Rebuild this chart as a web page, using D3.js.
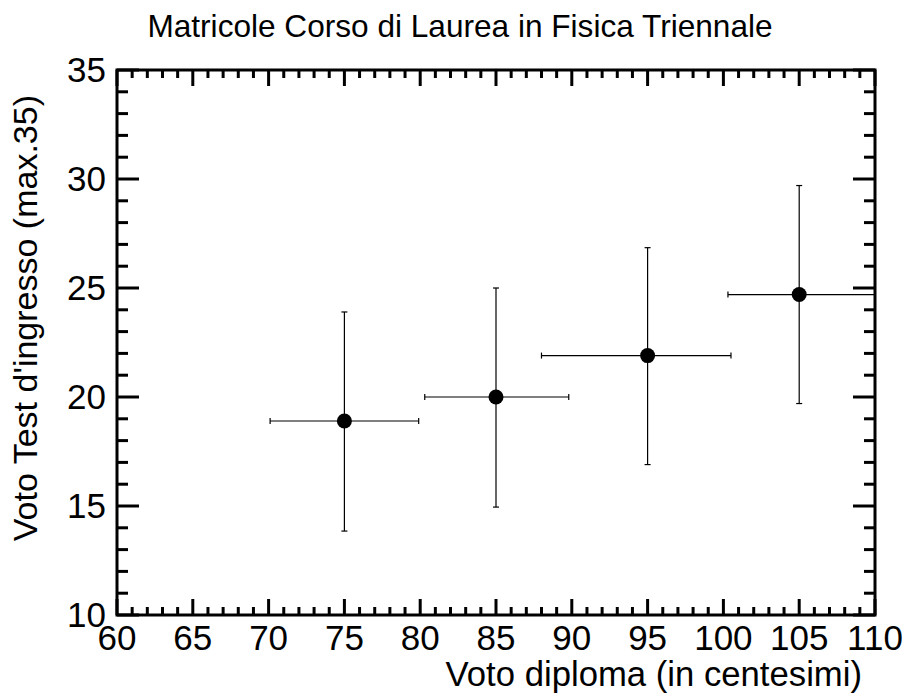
<!DOCTYPE html>
<html><head><meta charset="utf-8">
<script src="https://cdn.jsdelivr.net/npm/d3@7"></script>
<style>body{margin:0;background:#fff}svg{display:block}text{font-family:"Liberation Sans",Arial,sans-serif;fill:#000}</style>
</head><body>
<script>
const xVals = [75, 85, 95, 105];
const yVals = [18.9, 20.0, 21.9, 24.7];
const xLow = [70.1, 80.3, 88.0, 100.3];
const xHigh = [79.9, 89.8, 100.5, 110];
const yLow = [13.85, 14.95, 16.9, 19.7];
const yHigh = [23.9, 25.0, 26.85, 29.7];
const xTicks = [60, 65, 70, 75, 80, 85, 90, 95, 100, 105, 110];
const yTicks = [10, 15, 20, 25, 30, 35];
const title = "Matricole Corso di Laurea in Fisica Triennale";
const xLabel = "Voto diploma (in centesimi)";
const yLabel = "Voto Test d'ingresso (max.35)";

const W = 907, H = 700;
const L = 117, R = 875, T = 70, B = 615;
const svg = d3.select("body").append("svg").attr("width", W).attr("height", H);
const x = d3.scaleLinear().domain([60, 110]).range([L, R]);
const y = d3.scaleLinear().domain([10, 35]).range([B, T]);

const data = xVals.map((v, i) => ({x: v, y: yVals[i], xl: xLow[i], xh: xHigh[i], yl: yLow[i], yh: yHigh[i]}));

// error bars
const g = svg.append("g").attr("stroke", "#000").attr("stroke-width", 1.2);
const cap = 3;
data.forEach(d => {
  g.append("line").attr("x1", x(d.xl)).attr("x2", x(d.xh)).attr("y1", y(d.y)).attr("y2", y(d.y));
  g.append("line").attr("x1", x(d.x)).attr("x2", x(d.x)).attr("y1", y(d.yl)).attr("y2", y(d.yh));
  g.append("line").attr("x1", x(d.x) - cap).attr("x2", x(d.x) + cap).attr("y1", y(d.yl)).attr("y2", y(d.yl));
  g.append("line").attr("x1", x(d.x) - cap).attr("x2", x(d.x) + cap).attr("y1", y(d.yh)).attr("y2", y(d.yh));
  g.append("line").attr("x1", x(d.xl)).attr("x2", x(d.xl)).attr("y1", y(d.y) - cap).attr("y2", y(d.y) + cap);
  if (d.xh < 110) g.append("line").attr("x1", x(d.xh)).attr("x2", x(d.xh)).attr("y1", y(d.y) - cap).attr("y2", y(d.y) + cap);
});
svg.append("g").selectAll("circle").data(data).join("circle")
  .attr("cx", d => x(d.x)).attr("cy", d => y(d.y)).attr("r", 7.5).attr("fill", "#000");

// axes with minor/major ticks (inward)
const xMinor = d3.range(60, 111, 1);
const yMinor = d3.range(10, 36, 1);
const ax = svg.append("g").attr("stroke", "#000").attr("stroke-width", 3);
xMinor.forEach(v => {
  const len = v % 5 === 0 ? 16 : 8;
  ax.append("line").attr("x1", x(v)).attr("x2", x(v)).attr("y1", B).attr("y2", B - len);
  ax.append("line").attr("x1", x(v)).attr("x2", x(v)).attr("y1", T).attr("y2", T + len);
});
yMinor.forEach(v => {
  const len = v % 5 === 0 ? 22 : 11;
  ax.append("line").attr("y1", y(v)).attr("y2", y(v)).attr("x1", L).attr("x2", L + len);
  ax.append("line").attr("y1", y(v)).attr("y2", y(v)).attr("x1", R).attr("x2", R - len);
});
ax.append("rect").attr("x", L).attr("y", T).attr("width", R - L).attr("height", B - T).attr("fill", "none");

// tick labels
svg.append("g").selectAll("text").data(xTicks).join("text")
  .attr("x", d => x(d)).attr("y", 650).attr("text-anchor", "middle").attr("font-size", 35).text(d => d);
svg.append("g").selectAll("text").data(yTicks).join("text")
  .attr("x", 106).attr("y", d => y(d) + 12).attr("text-anchor", "end").attr("font-size", 35).text(d => d);

svg.append("text").attr("x", 460).attr("y", 37).attr("text-anchor", "middle").attr("font-size", 31.6).text(title);
svg.append("text").attr("x", 862).attr("y", 686).attr("text-anchor", "end").attr("font-size", 34.7).text(xLabel);
svg.append("text").attr("transform", "translate(37,95) rotate(-90)").attr("text-anchor", "end").attr("font-size", 34).text(yLabel);
</script>
</body></html>
